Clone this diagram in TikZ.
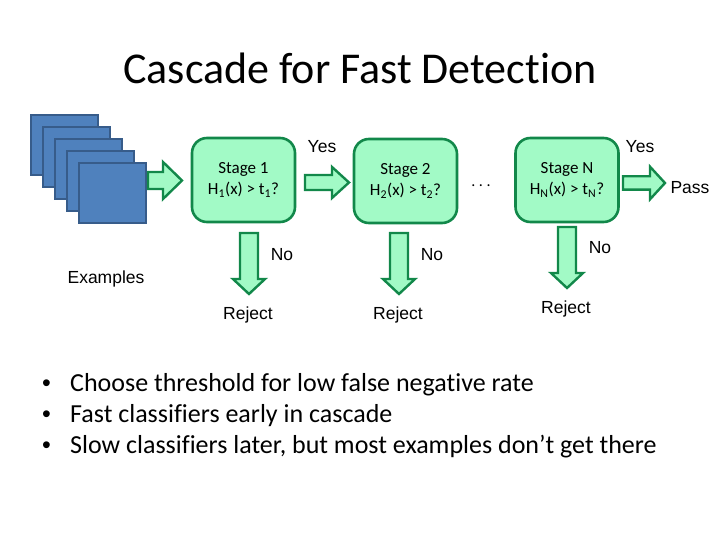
\documentclass[tikz,border=0pt]{standalone}
\usepackage{fontspec}
\setmainfont{Carlito}[RawFeature={-liga;-clig;-dlig}]
\newfontfamily\arialf{Liberation Sans}
\definecolor{boxfill}{HTML}{A2FAC6}
\definecolor{boxline}{HTML}{12884A}
\definecolor{exfill}{HTML}{4F81BD}
\definecolor{exline}{HTML}{375C8A}
\tikzset{
  stagebox/.style={draw=boxline, fill=boxfill, line width=2.6pt, rounded corners=15pt,
    minimum width=103pt, minimum height=84pt, inner sep=0pt, align=center,
    font=\fontsize{17}{21}\selectfont},
  exbox/.style={draw=exline, fill=exfill, line width=1.8pt, minimum width=67pt,
    minimum height=60pt, anchor=north west, inner sep=0pt},
  barrow/.style={draw=boxline, fill=boxfill, line width=2.4pt, line join=miter},
  lbl/.style={font=\arialf\fontsize{17.5}{20}\selectfont, inner sep=0pt},
  bul/.style={font=\fontsize{26}{30}\selectfont, anchor=base west, inner sep=0pt},
  bulmark/.style={font=\arialf\fontsize{25}{28}\selectfont, anchor=base west, inner sep=0pt},
}
\newcommand{\harrow}[6]{%
  \draw[barrow] ({#1},{#4-#5}) -- ({#3},{#4-#5}) -- ({#3},{#4-#6}) -- ({#2},{#4})
    -- ({#3},{#4+#6}) -- ({#3},{#4+#5}) -- ({#1},{#4+#5}) -- cycle;}
\newcommand{\varrow}[6]{%
  \draw[barrow] ({#4-#5},{#1}) -- ({#4-#5},{#3}) -- ({#4-#6},{#3}) -- ({#4},{#2})
    -- ({#4+#6},{#3}) -- ({#4+#5},{#3}) -- ({#4+#5},{#1}) -- cycle;}
\begin{document}
\begin{tikzpicture}[x=1pt,y=-1pt]
\useasboundingbox (0,0) rectangle (720,540);
\node[font=\fontsize{44}{50}\selectfont, inner sep=0pt] (title) at (360,68) {Cascade for Fast Detection};
% example stack
\node[exbox] (ex1) at (30,114) {};
\node[exbox] (ex2) at (42,126) {};
\node[exbox] (ex3) at (54,138) {};
\node[exbox] (ex4) at (66,150) {};
\node[exbox] (ex5) at (78,162) {};
\node[lbl] (exl) at (106,279) {Examples};
% stages
\node[stagebox] (s1) at (243.5,180) {Stage 1\\H\textsubscript{1}(x) > t\textsubscript{1}?};
\node[stagebox] (s2) at (405.5,181) {Stage 2\\H\textsubscript{2}(x) > t\textsubscript{2}?};
\node[stagebox] (sN) at (567,180) {Stage N\\H\textsubscript{N}(x) > t\textsubscript{N}?};
\node[font=\fontsize{16}{20}\selectfont, inner sep=0pt] (dots) at (481,186) {.\hspace{3.5pt}.\hspace{3.5pt}.};
% horizontal block arrows
\harrow{148}{182}{163}{180.5}{8.5}{18.5}
\harrow{305}{349}{332}{182.5}{7.5}{15.5}
\harrow{623}{665}{650}{183}{6.7}{16.3}
% vertical block arrows
\varrow{233}{294}{279}{249}{9}{16}
\varrow{233}{294}{279}{399}{9}{16}
\varrow{227}{288}{273}{567}{9}{16}
% labels
\node[lbl] (y1) at (322,147) {Yes};
\node[lbl] (yN) at (640,147) {Yes};
\node[lbl] (pass) at (690,188) {Pass};
\node[lbl] (n1) at (282,255) {No};
\node[lbl] (n2) at (432,255) {No};
\node[lbl] (nN) at (600,248) {No};
\node[lbl] (r1) at (248,315) {Reject};
\node[lbl] (r2) at (398,315) {Reject};
\node[lbl] (rN) at (566,309) {Reject};
% bullets
\node[bulmark] (b1) at (42,391) {•};
\node[bul] (t1) at (70,391) {Choose threshold for low false negative rate};
\node[bulmark] (b2) at (42,422) {•};
\node[bul] (t2) at (70,422) {Fast classifiers early in cascade};
\node[bulmark] (b3) at (42,453) {•};
\node[bul] (t3) at (70,453) {Slow classifiers later, but most examples don’t get there};
\end{tikzpicture}
\end{document}
